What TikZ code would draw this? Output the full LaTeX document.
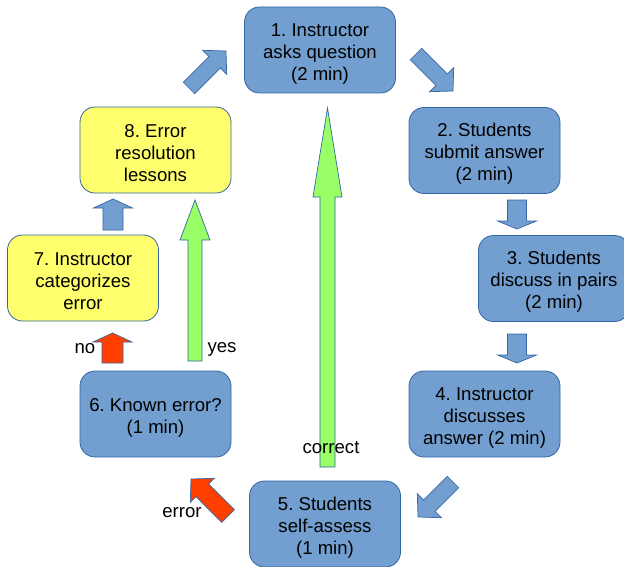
\documentclass[tikz,border=0pt]{standalone}
\usepackage{fontspec}
\setmainfont{Liberation Sans}
\usetikzlibrary{calc}
\frenchspacing
\definecolor{boxblue}{HTML}{729FCF}
\definecolor{edgeblue}{HTML}{3465A4}
\definecolor{boxyellow}{HTML}{FFFF6D}
\definecolor{arrgreen}{HTML}{99FF66}
\definecolor{arrred}{HTML}{FF4000}
\newcommand\topstrut{\rule{0pt}{20pt}}
\tikzset{
  stepbox/.style={draw=edgeblue, line width=0.8pt, rounded corners=15pt, minimum width=151pt, minimum height=86pt, align=center, inner sep=0pt, font=\fontsize{18.6pt}{22pt}\selectfont, text=black},
  bluebox/.style={stepbox, fill=boxblue},
  yellowbox/.style={stepbox, fill=boxyellow},
  barblue/.style={draw=edgeblue, line width=0.7pt, fill=boxblue},
  bargreen/.style={draw=edgeblue, line width=0.7pt, fill=arrgreen},
  barred/.style={draw=edgeblue, line width=0.7pt, fill=arrred},
  lbl/.style={font=\fontsize{18.6pt}{22pt}\selectfont, text=black, inner sep=0pt}
}
% #1 style, #2 tail, #3 tip, #4 shaft half width, #5 head half width, #6 head length
\newcommand\blockarr[6]{%
  \coordinate (tmpH) at ($(#3)!#6!(#2)$);
  \draw[#1] ($(#2)!#4!90:(#3)$) -- ($(tmpH)!#4!90:(#3)$) -- ($(tmpH)!#5!90:(#3)$) -- (#3)
    -- ($(tmpH)!#5!-90:(#3)$) -- ($(tmpH)!#4!-90:(#3)$) -- ($(#2)!#4!-90:(#3)$) -- cycle;
}
\begin{document}
\begin{tikzpicture}[x=1pt,y=-1pt]
\useasboundingbox (0,0) rectangle (624,567);
\begin{scope}
\clip (0,0) rectangle (624,567);
\node[bluebox] (n1) at (320,50) {\topstrut 1. Instructor\\asks question\\(2 min)};
\node[bluebox] (n2) at (484.5,150.5) {\topstrut 2. Students\\submit answer\\(2 min)};
\node[bluebox] (n3) at (554,278.5) {\topstrut 3. Students\\discuss in pairs\\(2 min)};
\node[bluebox] (n4) at (484.5,414) {\topstrut 4. Instructor\\discusses\\answer (2 min)};
\node[bluebox] (n5) at (325,524) {\topstrut 5. Students\\self-assess\\(1 min)};
\node[bluebox] (n6) at (155.5,414) {\topstrut 6. Known error?\\(1 min)};
\node[yellowbox] (n7) at (83,278) {\topstrut 7. Instructor\\categorizes\\error};
\node[yellowbox] (n8) at (155.5,150) {\topstrut 8. Error\\resolution\\lessons};
\end{scope}
% arrow end points
\coordinate (a12t) at (416,54);   \coordinate (a12h) at (453,91);
\coordinate (a23t) at (517,200);  \coordinate (a23h) at (517,229);
\coordinate (a34t) at (517,334);  \coordinate (a34h) at (517,363);
\coordinate (a45t) at (453,482);  \coordinate (a45h) at (418,517);
\coordinate (a56t) at (228,516);  \coordinate (a56h) at (191,479);
\coordinate (a67t) at (112.5,363);\coordinate (a67h) at (112.5,333);
\coordinate (a78t) at (113,230);  \coordinate (a78h) at (113,199);
\coordinate (a81t) at (189,88);   \coordinate (a81h) at (226,51);
\coordinate (ayt) at (195,361);   \coordinate (ayh) at (195,200);
\coordinate (act) at (327.5,467); \coordinate (ach) at (327.5,108);
\blockarr{barblue}{a12t}{a12h}{8pt}{17pt}{16pt}
\blockarr{barblue}{a23t}{a23h}{9.5pt}{19.5pt}{8pt}
\blockarr{barblue}{a34t}{a34h}{9.5pt}{19.5pt}{8pt}
\blockarr{barblue}{a45t}{a45h}{8pt}{17pt}{16pt}
\blockarr{barred}{a56t}{a56h}{9pt}{17pt}{16pt}
\blockarr{barred}{a67t}{a67h}{10.5pt}{19.5pt}{9pt}
\blockarr{barblue}{a78t}{a78h}{10pt}{19.5pt}{9pt}
\blockarr{barblue}{a81t}{a81h}{8pt}{17pt}{16pt}
\blockarr{bargreen}{ayt}{ayh}{7pt}{15pt}{40pt}
\blockarr{bargreen}{act}{ach}{7.5pt}{14.5pt}{89pt}
\node[lbl] (lno) at (85,349) {no};
\node[lbl] (lyes) at (222,349) {yes};
\node[lbl] (lcor) at (331,448) {correct};
\node[lbl] (lerr) at (182,513) {error};
\end{tikzpicture}
\end{document}
